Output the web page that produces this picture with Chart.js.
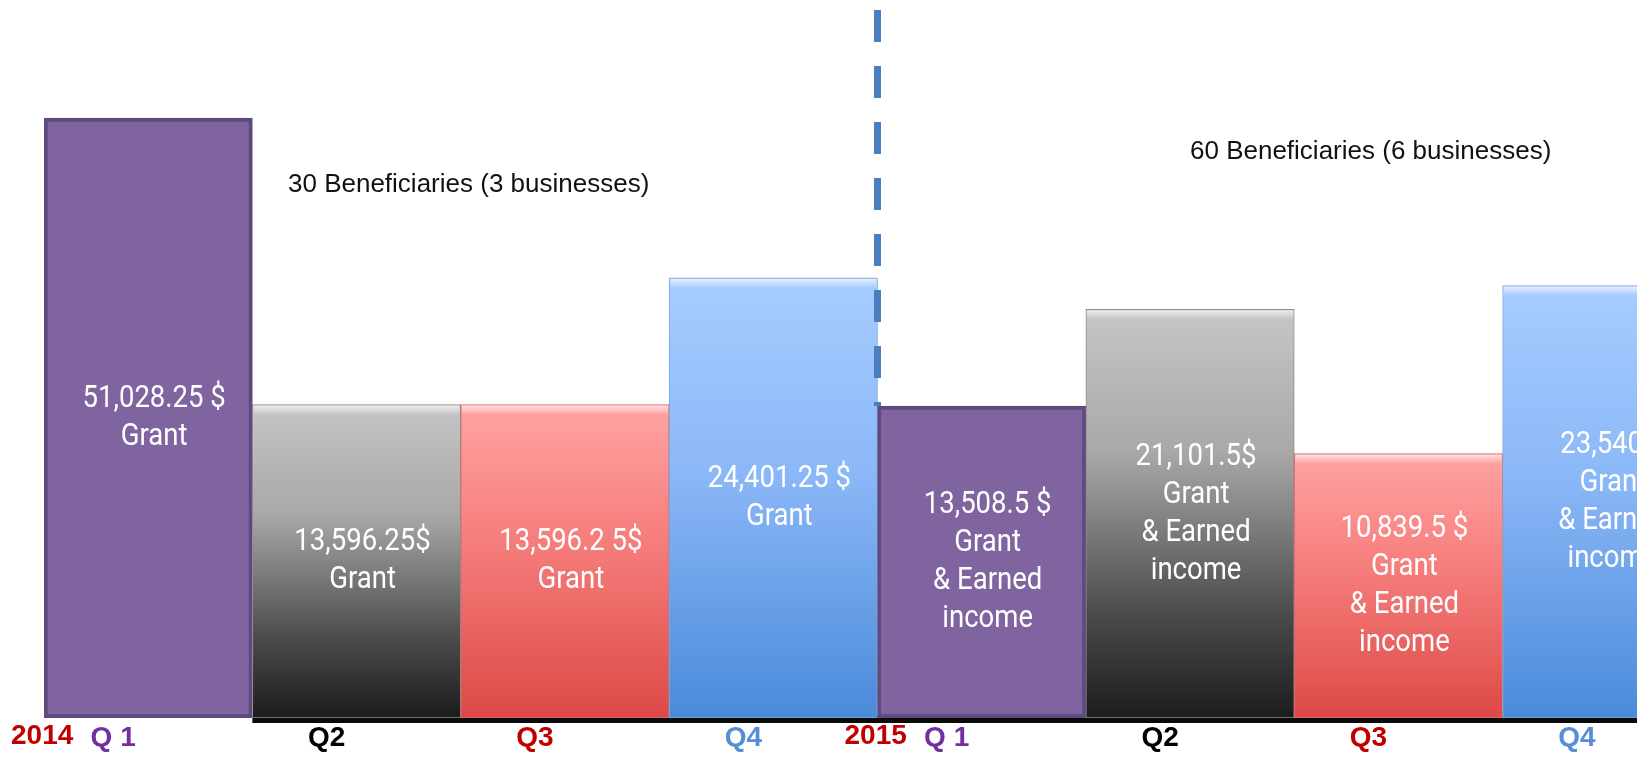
<!DOCTYPE html>
<html>
<head>
<meta charset="utf-8">
<script src="https://cdn.jsdelivr.net/npm/chart.js@4.4.1/dist/chart.umd.min.js"></script>
<style>
  html, body { margin: 0; padding: 0; background: #fff; overflow: hidden; }
  #wrap { position: absolute; left: 0; top: 0; width: 1711px; height: 760px; }
</style>
</head>
<body>
<div id="wrap"><canvas id="chart"></canvas></div>
<script>
const categories = ['2014 Q1', '2014 Q2', '2014 Q3', '2014 Q4', '2015 Q1', '2015 Q2', '2015 Q3', '2015 Q4'];
const amounts = [51028.25, 13596.25, 13596.25, 24401.25, 13508.5, 21101.5, 10839.5, 23540];
const amountLabels = ['51,028.25 $', '13,596.25$', '13,596.2 5$', '24,401.25 $', '13,508.5 $', '21,101.5$', '10,839.5 $', '23,540 $'];
const captions = [
  ['Grant'], ['Grant'], ['Grant'], ['Grant'],
  ['Grant', '& Earned', 'income'], ['Grant', '& Earned', 'income'],
  ['Grant', '& Earned', 'income'], ['Grant', '& Earned', 'income']
];
const yearLabels = ['2014', '', '', '', '2015', '', '', ''];
const quarterLabels = ['Q 1', 'Q2', 'Q3', 'Q4', 'Q 1', 'Q2', 'Q3', 'Q4'];
const notes = ['30 Beneficiaries (3 businesses)', '60 Beneficiaries (6 businesses)'];

// per-quarter look: purple flat, grey / red / blue gradients
const gradStops = [
  null,
  [[0, '#c6c6c6'], [0.35, '#a8a8a8'], [0.75, '#4a4a4a'], [1, '#1c1c1c']],
  [[0, '#ffa3a3'], [0.45, '#f57c7a'], [1, '#dc4946']],
  [[0, '#a7cdff'], [0.45, '#8ab7f7'], [1, '#4a8ad9']]
];
const edgeColors = ['#5e4a7e', '#8c8c8c', '#d86c6c', '#7aa6e0'];
const quarterColors = ['#7030a0', '#000000', '#c00000', '#558ed5'];

function barFill(ctx) {
  if (ctx.type !== 'data') return '#7f64a0';
  const q = ctx.dataIndex % 4;
  if (q === 0) return '#7f64a0';
  const chart = ctx.chart;
  const area = chart.chartArea;
  if (!area) return gradStops[q][1][1];
  const top = chart.scales.y.getPixelForValue(amounts[ctx.dataIndex]);
  const g = chart.ctx.createLinearGradient(0, top, 0, area.bottom);
  gradStops[q].forEach(s => g.addColorStop(s[0], s[1]));
  return g;
}

const decorations = {
  id: 'decorations',
  beforeDatasetsDraw(chart) {
    const { ctx, chartArea } = chart;
    const meta = chart.getDatasetMeta(0);
    const first = meta.data[1];
    ctx.save();
    ctx.fillStyle = '#0a0a0a';
    ctx.fillRect(first.x - first.width / 2, chartArea.bottom - 2, chartArea.right - first.x + first.width / 2, 7);
    ctx.restore();
  },
  afterDatasetsDraw(chart) {
    const { ctx, chartArea } = chart;
    const meta = chart.getDatasetMeta(0);
    const x = chart.scales.x;
    ctx.save();

    // bevel highlight on top of gradient bars
    meta.data.forEach((bar, i) => {
      if (i % 4 === 0) return;
      const left = bar.x - bar.width / 2;
      const g = ctx.createLinearGradient(0, bar.y, 0, bar.y + 10);
      g.addColorStop(0, 'rgba(255,255,255,0.75)');
      g.addColorStop(1, 'rgba(255,255,255,0)');
      ctx.fillStyle = g;
      ctx.fillRect(left + 1, bar.y + 1, bar.width - 2, 10);
    });

    // values inside the bars (condensed look)
    ctx.fillStyle = '#ffffff';
    ctx.font = "32px Roboto, sans-serif";
    ctx.textAlign = 'center';
    ctx.textBaseline = 'middle';
    const lh = 38;
    const sx = 0.86;
    meta.data.forEach((bar, i) => {
      const lines = [amountLabels[i]].concat(captions[i]);
      const mid = (bar.y + bar.base) / 2;
      const y0 = mid - (lines.length - 1) * lh / 2;
      lines.forEach((t, k) => {
        ctx.save();
        ctx.translate(bar.x + 6, y0 + k * lh);
        ctx.scale(sx, 1);
        ctx.fillText(t, 0, 0);
        ctx.restore();
      });
    });

    // dashed separator between the two years
    const sep = (x.getPixelForValue(3) + x.getPixelForValue(4)) / 2;
    ctx.strokeStyle = '#4a7ebf';
    ctx.lineWidth = 7;
    ctx.setLineDash([32, 24]);
    ctx.beginPath();
    ctx.moveTo(sep, 10);
    ctx.lineTo(sep, meta.data[4].y);
    ctx.stroke();
    ctx.setLineDash([]);

    // beneficiaries notes
    ctx.fillStyle = '#111111';
    ctx.font = "26px 'Liberation Sans', Arial, sans-serif";
    ctx.textAlign = 'left';
    ctx.fillText(notes[0], 288, 185);
    ctx.fillText(notes[1], 1190, 152);

    // quarter / year labels under the bars
    ctx.font = "bold 28px 'Liberation Sans', Arial, sans-serif";
    ctx.textAlign = 'center';
    quarterLabels.forEach((q, i) => {
      const cx = x.getPixelForValue(i);
      const qx = i % 4 === 0 ? cx - 35 : cx - 30;
      ctx.fillStyle = quarterColors[i % 4];
      ctx.fillText(q, qx, chartArea.bottom + 20);
      if (yearLabels[i]) {
        ctx.fillStyle = '#c00000';
        ctx.fillText(yearLabels[i], cx - 106, chartArea.bottom + 18);
      }
    });
    ctx.restore();
  }
};

new Chart(document.getElementById('chart'), {
  type: 'bar',
  data: {
    labels: categories,
    datasets: [{
      data: amounts,
      backgroundColor: barFill,
      borderColor: categories.map((c, i) => edgeColors[i % 4]),
      borderWidth: categories.map((c, i) => (i % 4 === 0 ? 4 : 1)),
      borderSkipped: false,
      categoryPercentage: 1,
      barPercentage: 1
    }]
  },
  options: {
    responsive: true,
    maintainAspectRatio: false,
    animation: false,
    layout: { padding: { left: 44, right: 0, top: 0, bottom: 42 } },
    plugins: { legend: { display: false }, tooltip: { enabled: false } },
    scales: {
      x: { display: false },
      y: { type: 'logarithmic', display: false, min: 3200, max: 88000 }
    }
  },
  plugins: [decorations]
});
</script>
</body>
</html>
